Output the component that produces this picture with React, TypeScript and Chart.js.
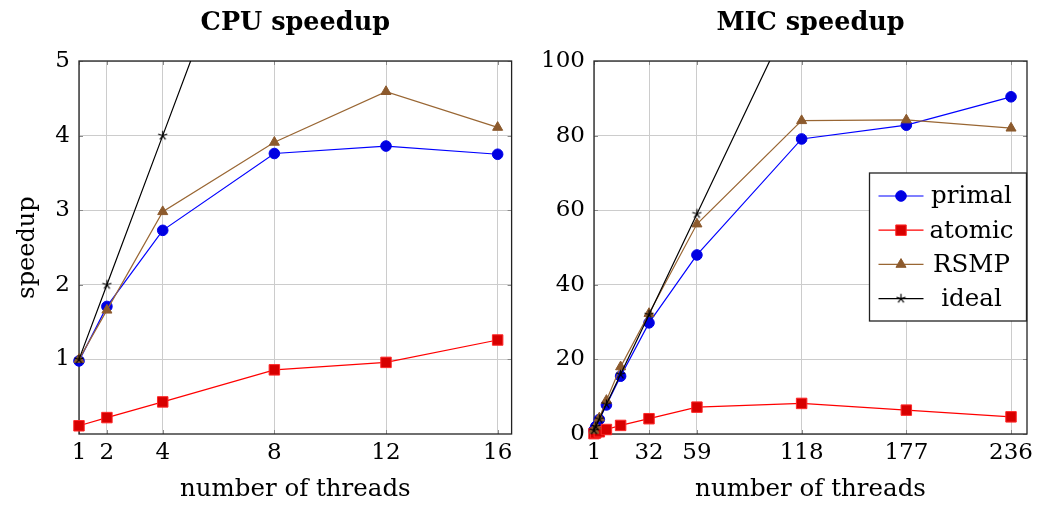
import React, { useEffect, useRef } from "react";
import { Chart, registerables } from "chart.js";

Chart.register(...registerables);

// ---------- data ----------
const cpuThreads = [1, 2, 4, 8, 12, 16];
const cpuPrimal = [0.98, 1.71, 2.73, 3.76, 3.86, 3.75];
const cpuAtomic = [0.11, 0.22, 0.43, 0.86, 0.96, 1.26];
const cpuRSMP = [1.0, 1.66, 2.98, 3.91, 4.59, 4.11];
const cpuIdeal = [1, 2, 4, 8, 12, 16];
const cpuXTicks = [1, 2, 4, 8, 12, 16];
const cpuYTicks = [1, 2, 3, 4, 5];

const micThreads = [1, 2, 4, 8, 16, 32, 59, 118, 177, 236];
const micPrimal = [1.0, 2.0, 3.9, 7.8, 15.5, 29.8, 48.0, 79.1, 82.8, 90.4];
const micAtomic = [0.1, 0.3, 0.6, 1.2, 2.3, 4.1, 7.2, 8.2, 6.4, 4.6];
const micRSMP = [1.0, 2.1, 4.3, 9.0, 18.0, 32.3, 56.3, 84.0, 84.2, 82.0];
const micIdeal = [1, 2, 4, 8, 16, 32, 59, 118, 177, 236];
const micXTicks = [1, 32, 59, 118, 177, 236];
const micYTicks = [0, 20, 40, 60, 80, 100];

const seriesLabels = ["primal", "atomic", "RSMP", "ideal"];

const FONT = "'DejaVu Serif', serif";

function makeStar(): HTMLCanvasElement {
  const c = document.createElement("canvas");
  c.width = 11;
  c.height = 11;
  const ctx = c.getContext("2d")!;
  ctx.strokeStyle = "#000";
  ctx.lineWidth = 1.2;
  ctx.beginPath();
  for (let i = 0; i < 5; i++) {
    const a = -Math.PI / 2 + (i * 2 * Math.PI) / 5;
    ctx.moveTo(5.5, 5.5);
    ctx.lineTo(5.5 + Math.cos(a) * 4.8, 5.5 + Math.sin(a) * 4.8);
  }
  ctx.stroke();
  return c;
}

function makeDatasets(x: number[], ys: number[][], star: HTMLCanvasElement) {
  const styles = [
    { line: "#0000ff", fill: "rgb(0,0,225)", border: "rgb(0,0,235)", ps: "circle", r: 5.3, order: 3 },
    { line: "#ff0000", fill: "rgb(215,0,0)", border: "rgb(255,40,40)", ps: "rect", r: 7.4, order: 2 },
    { line: "rgb(153,102,51)", fill: "rgb(140,90,45)", border: "rgb(140,90,45)", ps: "triangle", r: 5.8, order: 1 },
    { line: "#000000", fill: "#000", border: "#000", ps: star as any, r: 5, order: 0 },
  ];
  return ys.map((vals, i) => {
    const s = styles[i];
    return {
      label: seriesLabels[i],
      data: x.map((xv, j) => ({ x: xv, y: vals[j] })),
      borderColor: s.line,
      borderWidth: 1.2,
      backgroundColor: s.fill,
      pointBackgroundColor: s.fill,
      pointBorderColor: s.border,
      pointBorderWidth: 1,
      pointStyle: s.ps,
      pointRadius: s.r,
      order: s.order,
      tension: 0,
      clip: i === 3 ? { left: 12, right: 12, top: 0, bottom: 12 } : false,
    };
  });
}

const framePlugin = {
  id: "frame",
  beforeDatasetsDraw(chart: any) {
    const { ctx, chartArea: a, scales } = chart;
    ctx.save();
    ctx.strokeStyle = "#8a8a8a";
    ctx.lineWidth = 1;
    ctx.beginPath();
    const xs = scales.x.ticks.map((t: any) => scales.x.getPixelForValue(t.value));
    const ys = scales.y.ticks.map((t: any) => scales.y.getPixelForValue(t.value));
    xs.forEach((px: number) => {
      const p = Math.round(px) + 0.5;
      ctx.moveTo(p, a.bottom);
      ctx.lineTo(p, a.bottom - 4);
      ctx.moveTo(p, a.top);
      ctx.lineTo(p, a.top + 4);
    });
    ys.forEach((py: number) => {
      const p = Math.round(py) + 0.5;
      ctx.moveTo(a.left, p);
      ctx.lineTo(a.left + 4, p);
      ctx.moveTo(a.right, p);
      ctx.lineTo(a.right - 4, p);
    });
    ctx.stroke();
    ctx.strokeStyle = "#222";
    ctx.lineWidth = 1.3;
    ctx.strokeRect(a.left, a.top, a.right - a.left, a.bottom - a.top);
    ctx.restore();
  },
};

const titlePlugin = {
  id: "ptitle",
  afterDraw(chart: any, _args: any, opts: any) {
    const { ctx, chartArea: a } = chart;
    ctx.save();
    ctx.font = `bold 25.5px ${FONT}`;
    ctx.fillStyle = "#000";
    ctx.textAlign = "center";
    ctx.textBaseline = "alphabetic";
    ctx.fillText(opts.text, (a.left + a.right) / 2, 30);
    ctx.restore();
  },
};

const legendPlugin = {
  id: "boxLegend",
  afterDraw(chart: any, _args: any, opts: any) {
    if (!opts || !opts.show) return;
    const { ctx, chartArea: a } = chart;
    const right = a.right - 0.5;
    const left = right - 157;
    const top = a.top + 112;
    const h = 148;
    ctx.save();
    ctx.fillStyle = "#fff";
    ctx.fillRect(left, top, right - left, h);
    ctx.strokeStyle = "#222";
    ctx.lineWidth = 1.3;
    ctx.strokeRect(left, top, right - left, h);
    const dsets = chart.data.datasets;
    dsets.forEach((ds: any, i: number) => {
      const cy = top + 23 + i * 34.2;
      const x0 = left + 9;
      const x1 = left + 54;
      const cx = (x0 + x1) / 2;
      ctx.strokeStyle = ds.borderColor;
      ctx.lineWidth = 1.2;
      ctx.beginPath();
      ctx.moveTo(x0, cy);
      ctx.lineTo(x1, cy);
      ctx.stroke();
      ctx.fillStyle = ds.pointBackgroundColor;
      ctx.strokeStyle = ds.pointBorderColor;
      ctx.lineWidth = 1;
      const r = ds.pointRadius;
      const ps = ds.pointStyle;
      ctx.beginPath();
      if (ps === "circle") {
        ctx.arc(cx, cy, r, 0, Math.PI * 2);
        ctx.fill();
        ctx.stroke();
      } else if (ps === "rect") {
        const s = r * Math.SQRT1_2;
        ctx.rect(cx - s, cy - s, 2 * s, 2 * s);
        ctx.fill();
        ctx.stroke();
      } else if (ps === "triangle") {
        for (let k = 0; k < 3; k++) {
          const ang = -Math.PI / 2 + (k * 2 * Math.PI) / 3;
          const px = cx + Math.cos(ang) * r;
          const py = cy + Math.sin(ang) * r;
          if (k === 0) ctx.moveTo(px, py);
          else ctx.lineTo(px, py);
        }
        ctx.closePath();
        ctx.fill();
        ctx.stroke();
      } else if (ps && ps.width) {
        ctx.drawImage(ps, cx - ps.width / 2, cy - ps.height / 2);
      }
      ctx.fillStyle = "#000";
      ctx.font = `24.5px ${FONT}`;
      ctx.textAlign = "center";
      ctx.textBaseline = "middle";
      ctx.fillText(ds.label, left + 102, cy + 1);
    });
    ctx.restore();
  },
};

function buildConfig(opts: {
  x: number[];
  ys: number[][];
  xTicks: number[];
  yTicks: number[];
  xMin: number;
  xMax: number;
  yMax: number;
  yWidth: number;
  padRight: number;
  title: string;
  yTitle: string | null;
  legend: boolean;
}) {
  const star = makeStar();
  return {
    type: "line" as const,
    data: { datasets: makeDatasets(opts.x, opts.ys, star) as any },
    plugins: [framePlugin, titlePlugin, legendPlugin],
    options: {
      animation: false as const,
      responsive: false,
      layout: { padding: { top: 61, left: 0, right: opts.padRight, bottom: 0 } },
      plugins: {
        legend: { display: false },
        tooltip: { enabled: false },
        title: { display: false },
        ptitle: { text: opts.title },
        boxLegend: { show: opts.legend },
      } as any,
      scales: {
        x: {
          type: "linear" as const,
          min: opts.xMin,
          max: opts.xMax,
          afterBuildTicks: (scale: any) => {
            scale.ticks = opts.xTicks.map((v) => ({ value: v }));
          },
          afterFit: (scale: any) => {
            scale.height = 73;
            scale.paddingLeft = 0;
            scale.paddingRight = 0;
          },
          grid: { color: "#cccccc", lineWidth: 1, drawTicks: false },
          border: { display: false },
          ticks: {
            padding: 5,
            color: "#000",
            maxRotation: 0,
            autoSkip: false,
            font: { family: FONT, size: 23 },
            callback: (v: any) => String(v),
          },
          title: {
            display: true,
            text: "number of threads",
            color: "#000",
            font: { family: FONT, size: 24.5 },
            padding: { top: 0, bottom: 3 },
          },
        },
        y: {
          type: "linear" as const,
          min: 0,
          max: opts.yMax,
          afterBuildTicks: (scale: any) => {
            scale.ticks = opts.yTicks.map((v) => ({ value: v }));
          },
          afterFit: (scale: any) => {
            scale.width = opts.yWidth;
            scale.paddingTop = 0;
            scale.paddingBottom = 0;
          },
          grid: { color: "#cccccc", lineWidth: 1, drawTicks: false },
          border: { display: false },
          ticks: {
            padding: 9,
            color: "#000",
            autoSkip: false,
            font: { family: FONT, size: 23 },
            callback: (v: any) => String(v),
          },
          title: {
            display: !!opts.yTitle,
            text: opts.yTitle || "",
            color: "#000",
            font: { family: FONT, size: 24 },
            padding: { top: 13, bottom: 0 },
          },
        },
      },
    },
  };
}

function ChartCanvas(props: { width: number; left: number; cfg: () => any }) {
  const ref = useRef<HTMLCanvasElement | null>(null);
  useEffect(() => {
    if (!ref.current) return;
    const chart = new Chart(ref.current, props.cfg());
    return () => chart.destroy();
  }, []);
  return (
    <canvas
      ref={ref}
      width={props.width}
      height={507}
      style={{ position: "absolute", left: props.left, top: 0, width: props.width, height: 507 }}
    />
  );
}

export default function App() {
  return (
    <div style={{ position: "absolute", left: 0, top: 0, width: 1038, height: 507, background: "#fff" }}>
      <ChartCanvas
        width={520}
        left={0}
        cfg={() =>
          buildConfig({
            x: cpuThreads,
            ys: [cpuPrimal, cpuAtomic, cpuRSMP, cpuIdeal],
            xTicks: cpuXTicks,
            yTicks: cpuYTicks,
            xMin: 1,
            xMax: 16.5,
            yMax: 5,
            yWidth: 79,
            padRight: 8,
            title: "CPU speedup",
            yTitle: "speedup",
            legend: false,
          })
        }
      />
      <ChartCanvas
        width={518}
        left={520}
        cfg={() =>
          buildConfig({
            x: micThreads,
            ys: [micPrimal, micAtomic, micRSMP, micIdeal],
            xTicks: micXTicks,
            yTicks: micYTicks,
            xMin: 1,
            xMax: 245,
            yMax: 100,
            yWidth: 74,
            padRight: 11,
            title: "MIC speedup",
            yTitle: null,
            legend: true,
          })
        }
      />
    </div>
  );
}
